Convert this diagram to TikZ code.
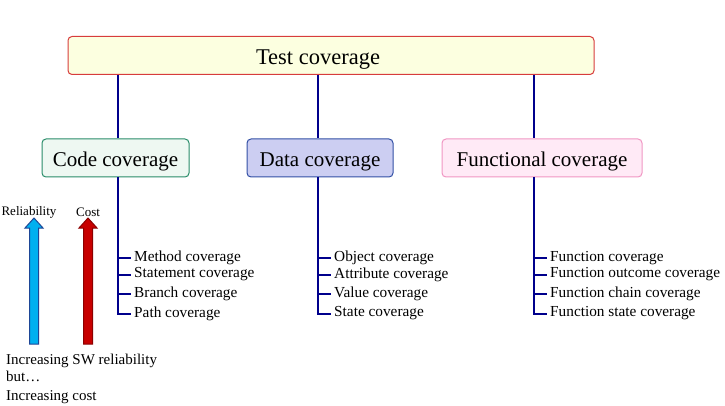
\documentclass[tikz,border=0pt]{standalone}
\usepackage{fontspec}
\setmainfont{Liberation Serif}
\usepackage{tikz}

\definecolor{stemblue}{RGB}{0,0,140}
\definecolor{topfill}{RGB}{252,255,224}
\definecolor{topdraw}{RGB}{215,60,60}
\definecolor{codefill}{RGB}{238,248,242}
\definecolor{codedraw}{RGB}{40,140,105}
\definecolor{datafill}{RGB}{204,206,242}
\definecolor{datadraw}{RGB}{50,80,165}
\definecolor{funcfill}{RGB}{255,234,246}
\definecolor{funcdraw}{RGB}{240,150,195}
\definecolor{relfill}{RGB}{0,176,240}
\definecolor{reldraw}{RGB}{30,70,150}
\definecolor{costfill}{RGB}{200,0,0}
\definecolor{costdraw}{RGB}{140,0,0}

\tikzset{
	box/.style={shape=rectangle, rounded corners=4pt, minimum height=38pt, inner sep=0pt,
		line width=1pt, text height=17pt, text depth=0pt, font=\fontsize{21}{25}\selectfont},
	branch/.style={draw=stemblue, line width=2pt},
	item/.style={anchor=west, inner sep=3pt, font=\fontsize{15.3}{18}\selectfont},
	small/.style={inner sep=0pt, font=\fontsize{13}{15}\selectfont}
}

\begin{document}
\begin{tikzpicture}[x=1pt, y=1pt]
	
	\useasboundingbox (0,0) rectangle (725,-406);
	
	\node[box, fill=topfill, draw=topdraw, minimum width=526pt, text height=19pt, font=\fontsize{22.5}{27}\selectfont] (test) at (331, -55.5) {Test coverage\hspace*{26pt}};
	\node[box, fill=codefill, draw=codedraw, minimum width=147pt] (code) at (115.5, -158) {Code coverage};
	\node[box, fill=datafill, draw=datadraw, minimum width=146pt] (data) at (320, -158) {Data coverage};
	\node[box, fill=funcfill, draw=funcdraw, minimum width=200pt] (func) at (542, -158) {Functional coverage};
	
	\coordinate (cstem) at (118, -177);
	\coordinate (dstem) at (318, -177);
	\coordinate (fstem) at (534, -177);
	
	\path[branch] (test.south -| cstem) -- (code.north -| cstem);
	\path[branch] (test.south -| dstem) -- (data.north -| dstem);
	\path[branch] (test.south -| fstem) -- (func.north -| fstem);
	
	\node[item] (c1) at (131, -258) {Method coverage};
	\node[item] (c2) at (131, -274.5) {Statement coverage};
	\node[item] (c3) at (131, -293.5) {Branch coverage};
	\node[item] (c4) at (131, -313.5) {Path coverage};
	
	\node[item] (d1) at (331, -258) {Object coverage};
	\node[item] (d2) at (331, -274.5) {Attribute coverage};
	\node[item] (d3) at (331, -293.5) {Value coverage};
	\node[item] (d4) at (331, -313.5) {State coverage};
	
	\node[item] (f1) at (547, -258) {Function coverage};
	\node[item] (f2) at (547, -274.5) {Function outcome coverage};
	\node[item] (f3) at (547, -293.5) {Function chain coverage};
	\node[item] (f4) at (547, -313.5) {Function state coverage};
	
	\path[branch] (cstem) |- (c4.west);
	\path[branch] (c1.west -| cstem) -- (c1.west);
	\path[branch] (c2.west -| cstem) -- (c2.west);
	\path[branch] (c3.west -| cstem) -- (c3.west);
	
	\path[branch] (dstem) |- (d4.west);
	\path[branch] (d1.west -| dstem) -- (d1.west);
	\path[branch] (d2.west -| dstem) -- (d2.west);
	\path[branch] (d3.west -| dstem) -- (d3.west);
	
	\path[branch] (fstem) |- (f4.west);
	\path[branch] (f1.west -| fstem) -- (f1.west);
	\path[branch] (f2.west -| fstem) -- (f2.west);
	\path[branch] (f3.west -| fstem) -- (f3.west);
	
	% the two fat arrows
	\filldraw[fill=relfill, draw=reldraw, line width=1pt]
		(29.5,-344) -- (29.5,-228) -- (25,-228) -- (34,-218) -- (43,-228) -- (38.5,-228) -- (38.5,-344) -- cycle;
	\filldraw[fill=costfill, draw=costdraw, line width=1pt]
		(83.5,-344) -- (83.5,-228) -- (79,-228) -- (88,-218) -- (97,-228) -- (92.5,-228) -- (92.5,-344) -- cycle;
	
	\node[small] (rel) at (29, -212) {Reliability};
	\node[small] (cost) at (88, -212) {Cost};
	
	\node[anchor=north west, inner sep=0pt, align=left, font=\fontsize{15}{17}\selectfont] (note) at (6, -354)
		{Increasing SW reliability\\ but\ldots\\[2pt] Increasing cost};
	
\end{tikzpicture}
\end{document}
